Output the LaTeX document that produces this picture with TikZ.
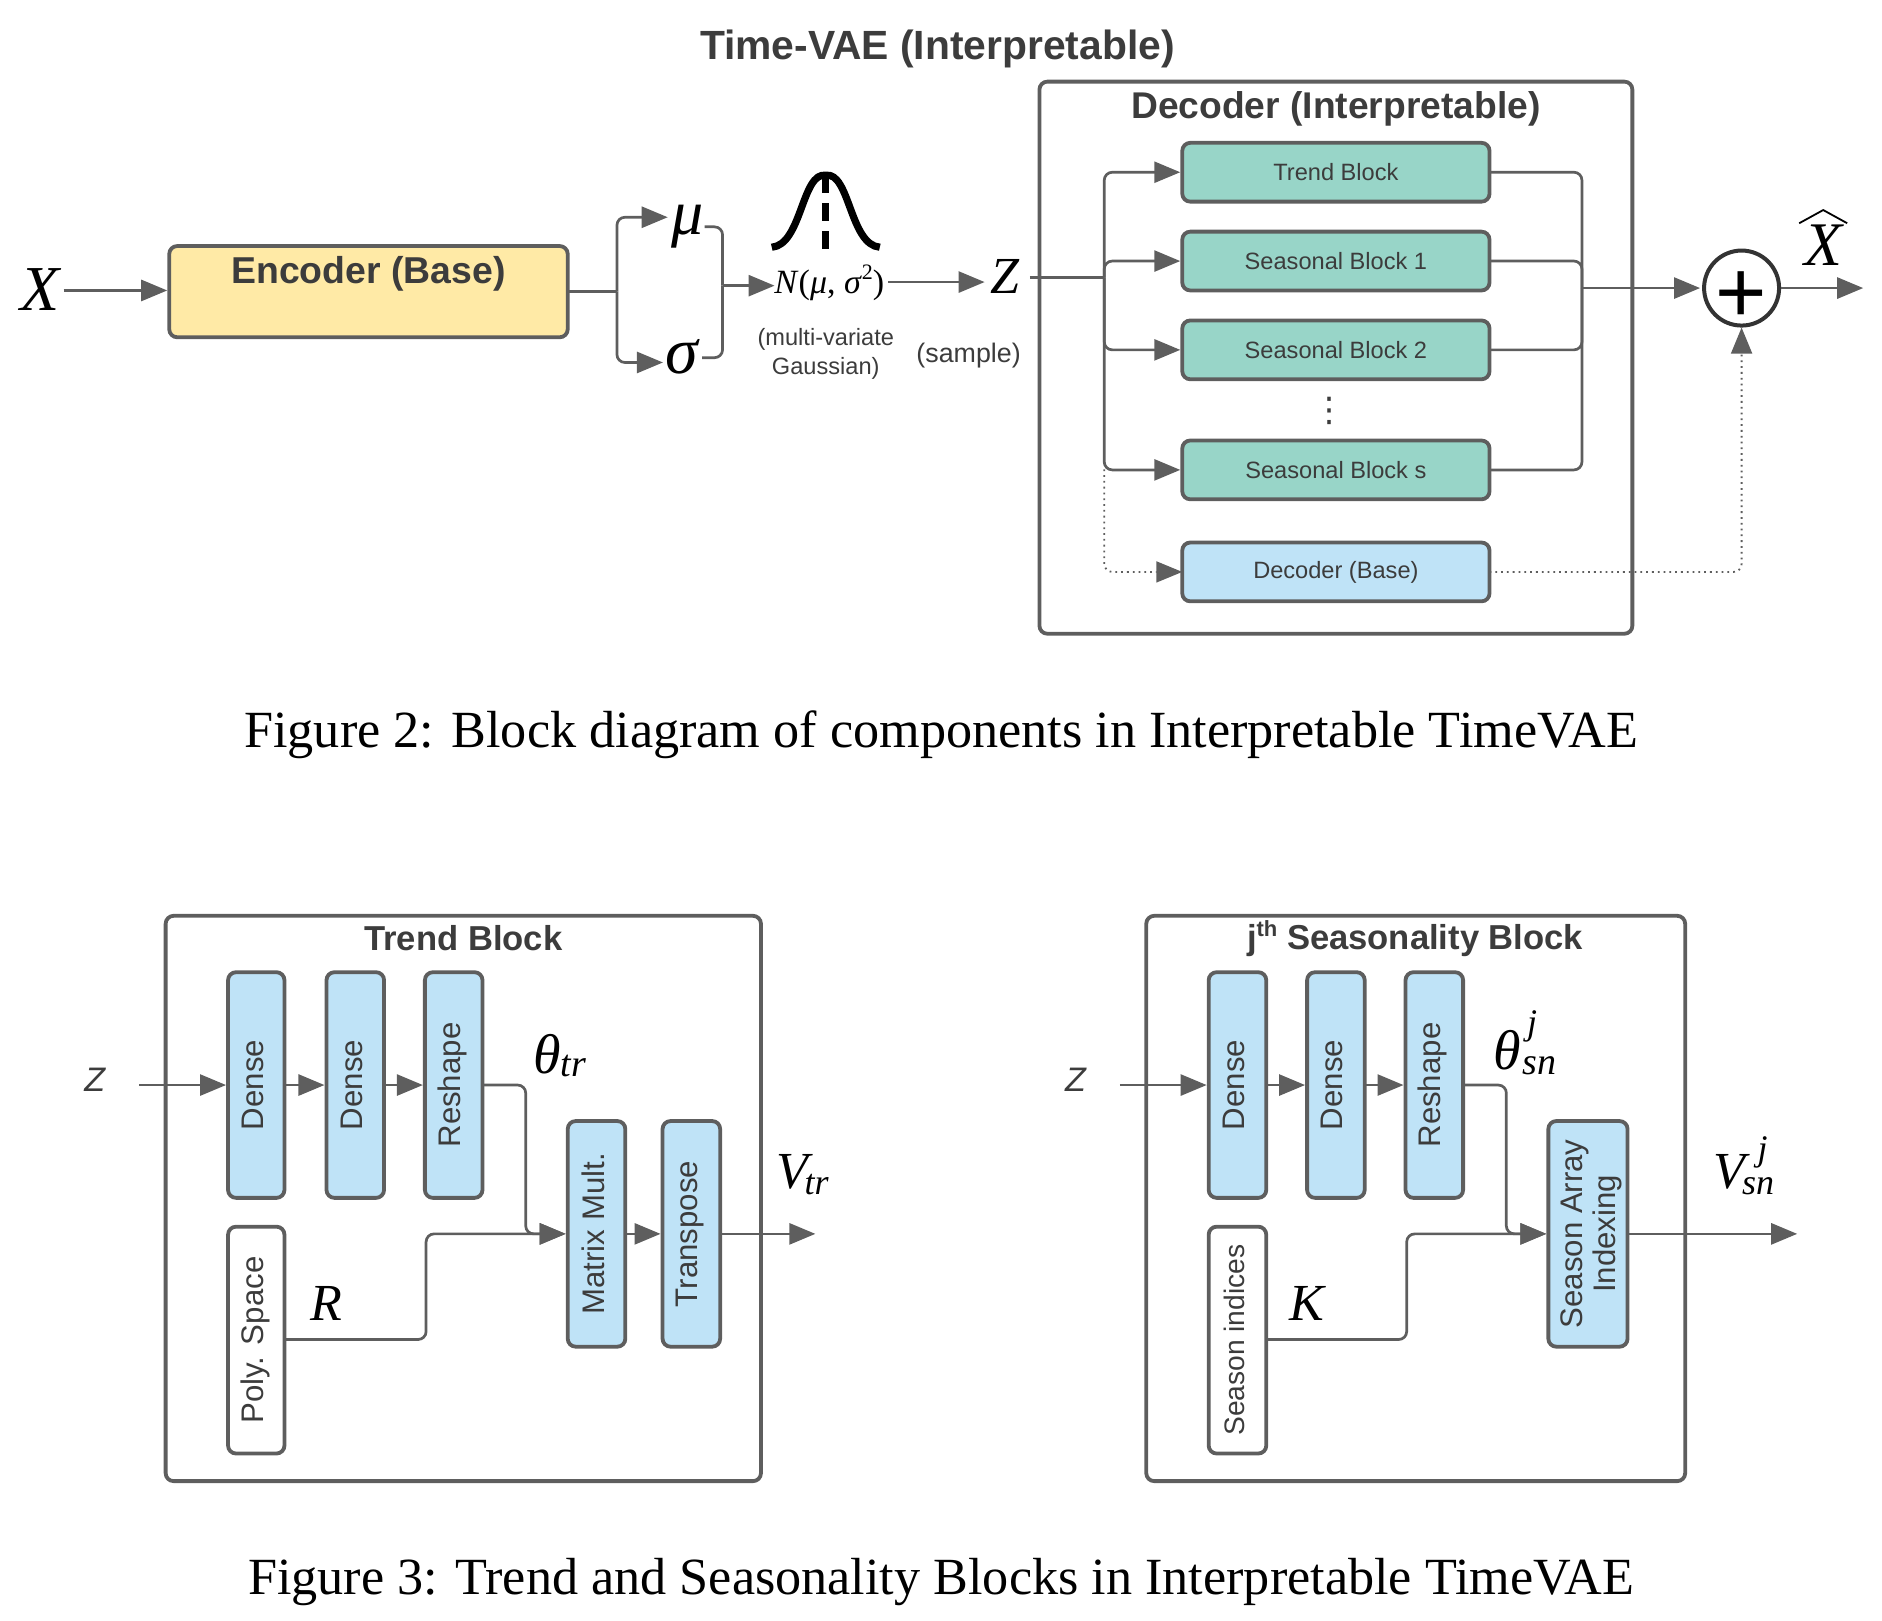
\documentclass[tikz,border=0pt]{standalone}
\usepackage{fontspec}
\setmainfont{Liberation Sans}
\newfontfamily\tnr{Liberation Serif}
\newfontfamily\dvs{DejaVu Sans}
\usetikzlibrary{arrows.meta}
\definecolor{ln}{HTML}{5E5E5E}
\definecolor{tx}{HTML}{3C3C3C}
\definecolor{tealb}{HTML}{98D5C8}
\definecolor{blueb}{HTML}{BFE3F7}
\definecolor{yelb}{HTML}{FFEAA6}
\newcommand{\fs}[1]{\fontsize{#1}{#1}\selectfont}
\newcommand{\bx}[7]{\node[#6,minimum width={(#4-#2)*0.6pt},minimum height={(#5-#3)*0.6pt}] (#1) at ({(#2+#4)/2},{(#3+#5)/2}) {#7};}
\newcommand{\vt}[2][3.6pt]{\rotatebox{90}{#2}\hspace*{#1}}
\tikzset{
  x=0.6pt,y=-0.6pt,
  box/.style={draw=ln,line width=1.9pt,rounded corners=4pt,inner sep=0pt,outer sep=0pt,text=tx},
  outerbox/.style={box,fill=none},
  tealblock/.style={box,fill=tealb,font=\fs{11.8}},
  blueblock/.style={box,fill=blueb,font=\fs{11.8}},
  yelblock/.style={box,fill=yelb},
  vblue/.style={box,fill=blueb,font=\fs{15.6}},
  vwhite/.style={box,fill=white,font=\fs{15.6}},
  ttl/.style={text=tx,font=\fs{#1}\bfseries,inner sep=0pt},
  subttl/.style={text=tx,font=\fs{17.3}\bfseries,inner sep=0pt},
  smalltxt/.style={text=tx,font=\fs{11.8},inner sep=0pt,align=center},
  captxt/.style={text=black,font=\tnr\fs{26.1},inner sep=0pt},
  mth/.style={text=black,font=\tnr\itshape\fs{#1},inner sep=0pt},
  zsans/.style={text=tx,font=\itshape\fs{17},inner sep=0pt},
  conn/.style={draw=ln,line width=1.35pt,rounded corners=4pt},
  arr/.style={conn,-{Triangle[length=13pt,width=10.5pt]},shorten >=1pt},
  dotline/.style={draw=ln,line width=0.9pt,dotted,rounded corners=4pt},
  dotarr/.style={dotline,-{Triangle[length=13pt,width=10.5pt,sep=0pt]}},
}
\begin{document}
\begin{tikzpicture}
\useasboundingbox (0,0) rectangle (1568,1350);

% ---------- Figure 2 ----------
\node[ttl=20.4] (title) at (781,41) {Time-VAE (Interpretable)};
\node[mth=32] (xin) at (33,241) {X};
\bx{enc}{141}{205}{473}{281}{yelblock}{}
\node[ttl=18.7] (enclabel) at (307,228) {Encoder (Base)};
\coordinate (xout) at (53,242);
\draw[arr] (xout) -- (xout -| enc.west);
\coordinate (b1) at (514,243);
\coordinate (muin) at (558,181);
\coordinate (sgin) at (554,302);
\draw[conn] (enc.east) -- (b1);
\draw[arr] (b1) |- (muin);
\draw[arr] (b1) |- (sgin);
\node[mth=32] (mu) at (573,189) {μ};
\node[mth=33] (sg) at (568,297) {σ};
\coordinate (muout) at (587,189);
\coordinate (sgout) at (585,298);
\coordinate (b2) at (602,238);
\coordinate (nin) at (647,238);
\draw[conn] (muout) -| (b2);
\draw[conn] (sgout) -| (b2);
\draw[arr] (b2) -- (nin);
% Gaussian
\draw[black,line width=3.6pt,line join=round] (643,206) .. controls (668,204) and (668,143) .. (688,146) .. controls (708,143) and (708,204) .. (733,206);
\draw[black,line width=3.4pt,dash pattern=on 9pt off 5pt] (688,146) -- (688,208);
\node[text=black,font=\tnr\fs{17},inner sep=0pt] (norm) at (691,236) {\textit{N}(\textit{μ}, \textit{σ}\raisebox{0.9ex}{\fs{11}2})};
\node[smalltxt] (mvg) at (688,295) {(multi-variate\\[2.6pt]Gaussian)};
\node[text=tx,font=\fs{13.4},inner sep=0pt] (smp) at (807,296) {(sample)};
\coordinate (nout) at (740,235);
\coordinate (zin) at (822,235);
\draw[arr] (nout) -- (zin);
\node[mth=26] (z) at (837,230) {Z};

\bx{dec}{866}{68}{1360}{528}{outerbox}{}
\node[ttl=18.6] (dectitle) at (1113,91) {Decoder (Interpretable)};
\bx{tb}{985}{119}{1241}{168}{tealblock}{Trend Block}
\bx{s1}{985}{193}{1241}{242}{tealblock}{Seasonal Block 1}
\bx{s2}{985}{267}{1241}{316}{tealblock}{Seasonal Block 2}
\bx{ss}{985}{367}{1241}{416}{tealblock}{Seasonal Block s}
\bx{db}{985}{452}{1241}{501}{blueblock}{Decoder (Base)}
\node[text=tx,font=\dvs\fs{17},inner sep=0pt] (dots) at (1108,342) {⋮};

\coordinate (zout) at (858,231);
\coordinate (jl) at (920,231);
\coordinate (jd) at (920,391);
\draw[conn] (zout) -- (jl);
\draw[arr] (jl) |- (tb.west);
\draw[arr] (jl) |- (s1.west);
\draw[arr] (jl) |- (s2.west);
\draw[arr] (jl) |- (ss.west);
\draw[dotarr] (jd) |- (db.west);

\coordinate (jr) at (1318,240);
\node[circle,draw=black!80,line width=2pt,fill=white,minimum size=37.5pt,inner sep=0pt] (sum) at (1451,240) {};
\node[text=black,font=\fs{44},inner sep=0pt,yshift=-4.5pt] (plus) at (sum.center) {+};
\draw[conn] (tb.east) -| (jr);
\draw[conn] (s1.east) -| (jr);
\draw[conn] (s2.east) -| (jr);
\draw[conn] (ss.east) -| (jr);
\draw[arr] (jr) -- (sum.west);
\coordinate (xhatin) at (1554,240);
\draw[arr] (sum.east) -- (xhatin);
\draw[dotarr] (db.east) -| (sum.south);
\node[mth=31] (xhat) at (1519,204) {X};
\draw[black,line width=0.9pt] (1499,186) -- (1519,175) -- (1539,186);

\node[captxt] (cap2) at (784,612) {Figure 2: Block diagram of components in Interpretable TimeVAE};

% ---------- Trend block ----------
\bx{tr}{138}{763}{634}{1234}{outerbox}{}
\node[subttl] (trtitle) at (386,782) {Trend Block};
\bx{td1}{190}{810}{237}{998}{vblue}{\vt{Dense}}
\bx{td2}{272}{810}{320}{998}{vblue}{\vt{Dense}}
\bx{trs}{354}{810}{402}{998}{vblue}{\vt[1.4pt]{Reshape}}
\bx{tps}{190}{1022}{237}{1211}{vwhite}{\vt[1pt]{Poly. Space}}
\bx{tmm}{473}{934}{521}{1122}{vblue}{\vt[3.6pt]{Matrix Mult.}}
\bx{ttp}{552}{934}{600}{1122}{vblue}{\vt[1.4pt]{Transpose}}
\node[zsans] (tz) at (79,900) {Z};
\coordinate (tzout) at (116,904);
\draw[arr] (tzout) -- (tzout -| td1.west);
\coordinate (t1r) at (td1.east |- tzout);
\coordinate (t2l) at (td2.west |- tzout);
\coordinate (t2r) at (td2.east |- tzout);
\coordinate (t3l) at (trs.west |- tzout);
\coordinate (t3r) at (trs.east |- tzout);
\draw[arr] (t1r) -- (t2l);
\draw[arr] (t2r) -- (t3l);
\coordinate (tm1) at (438,904);
\coordinate (tmi) at (tmm.west);
\draw[arr] (t3r) -- (tm1) |- (tmi);
\coordinate (tp1) at (tps.east |- 0,1116);
\draw[arr] (tp1) -- (355,1116) |- (tmi);
\draw[arr] (tmm.east) -- (ttp.west);
\coordinate (tvout) at (681,1028);
\draw[arr] (ttp.east) -- (tvout);
\node[mth=28] (ttheta) at (456,878) {θ};
\node[mth=19,anchor=west] (ttr) at (467,888) {tr};
\node[mth=26] (rr) at (272,1086) {R};
\node[mth=26] (tv) at (660,976) {V};
\node[mth=18,anchor=west] (tvs) at (670,987) {tr};

% ---------- Seasonality block ----------
\bx{sb}{955}{763}{1404}{1234}{outerbox}{}
\node[subttl] (sbtitle) at (1179,782) {j\raisebox{0.7ex}{\fs{11}th} Seasonality Block};
\bx{sd1}{1007}{810}{1055}{998}{vblue}{\vt{Dense}}
\bx{sd2}{1089}{810}{1137}{998}{vblue}{\vt{Dense}}
\bx{srs}{1171}{810}{1219}{998}{vblue}{\vt[1.4pt]{Reshape}}
\bx{ssi}{1007}{1022}{1055}{1211}{vwhite}{\vt[3pt]{\fs{14.1}Season indices}}
\bx{sai}{1290}{934}{1356}{1122}{vblue}{\hspace*{4.8pt}\vt[0pt]{\begin{tabular}{@{}c@{}}Season Array\\[1pt]Indexing\end{tabular}}}
\node[zsans] (sz) at (896,900) {Z};
\coordinate (szout) at (933,904);
\draw[arr] (szout) -- (szout -| sd1.west);
\coordinate (s1r) at (sd1.east |- szout);
\coordinate (s2l) at (sd2.west |- szout);
\coordinate (s2r) at (sd2.east |- szout);
\coordinate (s3l) at (srs.west |- szout);
\coordinate (s3r) at (srs.east |- szout);
\draw[arr] (s1r) -- (s2l);
\draw[arr] (s2r) -- (s3l);
\coordinate (sm1) at (1255,904);
\coordinate (smi) at (sai.west);
\draw[arr] (s3r) -- (sm1) |- (smi);
\coordinate (sp1) at (ssi.east |- 0,1116);
\draw[arr] (sp1) -- (1172,1116) |- (smi);
\coordinate (svout) at (1499,1028);
\draw[arr] (sai.east) -- (svout);
\node[mth=28] (stheta) at (1256,875) {θ};
\node[mth=19,anchor=west] (ssn) at (1268,888) {sn};
\node[mth=18,anchor=west] (sjt) at (1272,855) {j};
\node[mth=26] (kk) at (1089,1086) {K};
\node[mth=26] (sv) at (1441,976) {V};
\node[mth=18,anchor=west] (svs) at (1451,988) {sn};
\node[mth=18,anchor=west] (svj) at (1464,960) {j};

\node[captxt] (cap3) at (784,1318) {Figure 3: Trend and Seasonality Blocks in Interpretable TimeVAE};
\end{tikzpicture}
\end{document}
